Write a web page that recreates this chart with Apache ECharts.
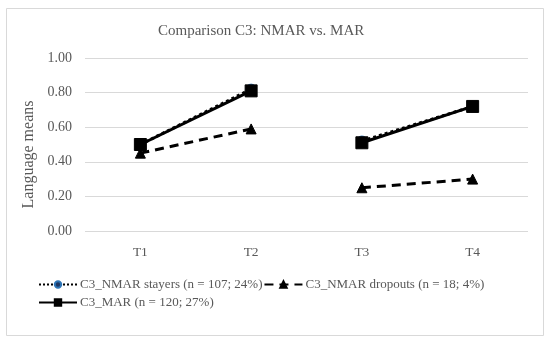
<!DOCTYPE html>
<html><head><meta charset="utf-8">
<script src="https://cdn.jsdelivr.net/npm/echarts@6/dist/echarts.min.js"></script>
<style>html,body{margin:0;padding:0;background:#fff}#c{width:550px;height:344px}</style>
</head><body><div id="c"></div>
<script>
const categories = ['T1', 'T2', 'T3', 'T4'];
const stayers = [0.50, 0.82, 0.52, 0.72];
const dropouts = [0.45, 0.59, 0.25, 0.30];
const mar = [0.50, 0.81, 0.51, 0.72];
const names = ['C3_NMAR stayers (n = 107; 24%)', 'C3_NMAR dropouts (n = 18; 4%)', 'C3_MAR (n = 120; 27%)'];
// split each series into T1-T2 and T3-T4 segments
function seg(arr){ return [[arr[0], arr[1], null, null], [null, null, arr[2], arr[3]]]; }
const font = 'Liberation Serif';
const grey = '#595959';
const styles = [
  {type: 'dotted', width: 3, color: '#000', symbol: 'circle', size: 10, sColor: '#1f3864', sBorder: '#2e75b6'},
  {type: [9, 6], width: 3, color: '#000', symbol: 'triangle', size: 10, sColor: '#000', sBorder: '#000'},
  {type: 'solid', width: 3, color: '#000', symbol: 'rect', size: 12, sColor: '#000', sBorder: '#000'}
];
const data = [stayers, dropouts, mar];
const series = [];
data.forEach((arr, i) => {
  seg(arr).forEach(d => {
    series.push({
      name: names[i], type: 'line', data: d, connectNulls: false,
      symbol: styles[i].symbol, symbolSize: styles[i].size,
      lineStyle: {type: styles[i].type, width: styles[i].width, color: styles[i].color},
      itemStyle: {color: styles[i].sColor, borderColor: styles[i].sBorder, borderWidth: 1},
      z: i + 2, animation: false
    });
  });
});
const chart = echarts.init(document.getElementById('c'));
chart.setOption({
  backgroundColor: '#fff',
  animation: false,
  graphic: [{type: 'rect', shape: {x: 6.5, y: 8.5, width: 537, height: 327}, style: {fill: 'none', stroke: '#d9d9d9', lineWidth: 1}, z: -1}],
  title: {text: 'Comparison C3: NMAR vs. MAR', left: 153, top: 19, textStyle: {fontFamily: font, fontSize: 15, fontWeight: 'normal', color: grey}},
  grid: {left: 85, right: 22, top: 58, bottom: 113},
  xAxis: {type: 'category', data: categories, boundaryGap: true,
    axisLine: {show: false}, axisTick: {show: false},
    axisLabel: {fontFamily: font, fontSize: 13.5, color: grey, margin: 14}},
  yAxis: {type: 'value', min: 0, max: 1, interval: 0.2,
    name: 'Language means', nameLocation: 'middle', nameGap: 47,
    nameTextStyle: {fontFamily: font, fontSize: 16, color: grey, padding: [0, 20, 0, 0]},
    axisLabel: {fontFamily: font, fontSize: 14, color: grey, margin: 13, formatter: v => v.toFixed(2)},
    splitLine: {lineStyle: {color: '#d9d9d9', width: 1}}},
  legend: {data: names, left: 33, top: 271, width: 480, itemWidth: 38, itemHeight: 8, itemGap: 1,
    textStyle: {fontFamily: font, fontSize: 13, lineHeight: 17, color: grey, padding: [0, 0, 0, -2]}},
  series: series
});
</script></body></html>
